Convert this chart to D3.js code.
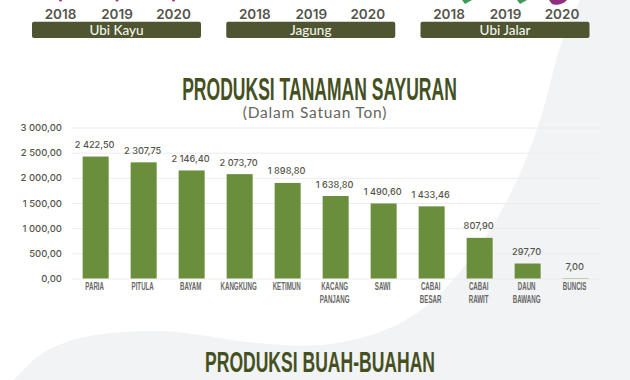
<!DOCTYPE html>
<html>
<head>
<meta charset="utf-8">
<script src="https://cdn.jsdelivr.net/npm/d3@7"></script>
<style>
  html, body { margin: 0; padding: 0; background: #fff; overflow: hidden; }
  text { font-family: "Lato", "Open Sans", sans-serif; }
  .num { font-family: "Inter", "Open Sans", sans-serif; fill: #55554c; }
  .title { font-family: "Liberation Sans", sans-serif; font-weight: 700; fill: #45501f; }
  .cat { font-family: "Liberation Sans", sans-serif; font-weight: 700; fill: #666; }
</style>
</head>
<body>
<svg id="chart" width="630" height="380"></svg>
<script>
const categories = ['PARIA', 'PITULA', 'BAYAM', 'KANGKUNG', 'KETIMUN', 'KACANG PANJANG', 'SAWI', 'CABAI BESAR', 'CABAI RAWIT', 'DAUN BAWANG', 'BUNCIS'];
const values = [2422.50, 2307.75, 2146.40, 2073.70, 1898.80, 1638.80, 1490.60, 1433.46, 807.90, 297.70, 7.00];
const tickValues = [0, 500, 1000, 1500, 2000, 2500, 3000];
const years = ['2018', '2019', '2020'];
const panels = ['Ubi Kayu', 'Jagung', 'Ubi Jalar'];

const MARGIN_LEFT = 72;
const GRID_RIGHT = 600;

const $svg = d3.select('#chart');

// format like 2 422,50
function fmt(v) {
  const parts = v.toFixed(2).split('.');
  return parts[0].replace(/\B(?=(\d{3})+$)/g, ' ') + ',' + parts[1];
}

// narrow display type: no condensed face installed, so squeeze it horizontally
function narrowText(x, y, size, squeeze, str, cls) {
  return $svg.append('text')
    .attr('class', cls)
    .attr('transform', `translate(${x},${y}) scale(${squeeze},1)`)
    .attr('text-anchor', 'middle')
    .style('font-size', size + 'px')
    .text(str);
}

// background swoosh
const swoosh = d3.line().curve(d3.curveCatmullRom.alpha(0.5));
const swooshEdge = [[580, 0], [563, 38], [540, 120], [517, 180], [477, 250], [425, 307], [380, 332], [321, 345], [257, 343], [160, 331], [80, 338], [40, 355], [14, 380]];
$svg.append('path')
  .attr('fill', '#f2f3f5')
  .attr('d', swoosh(swooshEdge) + ' L630,380 L630,0 Z');

// top panels
const yearX = d3.scalePoint().domain(years).range([-56, 57]);
const panelX = d3.scalePoint().domain(panels).range([116.5, 505]);

panels.forEach(p => {
  const g = $svg.append('g').attr('transform', `translate(${panelX(p)},0)`);
  g.selectAll('text.yr').data(years).join('text')
    .attr('class', 'yr num')
    .attr('x', d => yearX(d))
    .attr('y', 18.5)
    .attr('text-anchor', 'middle')
    .style('font-size', '13.5px')
    .style('font-weight', 600)
    .text(d => d);
  g.append('rect')
    .attr('x', -84.5).attr('y', 21.7).attr('width', 169).attr('height', 16.3).attr('rx', 2)
    .attr('fill', '#4e5530');
  g.append('text')
    .attr('x', 0).attr('y', 35)
    .attr('text-anchor', 'middle')
    .attr('fill', '#f4f4ee')
    .style('font-size', '13.5px')
    .style('font-weight', 500)
    .text(p);
});

// bits of the illustrations cut off by the crop at the top edge
years.forEach(y => {
  $svg.append('circle')
    .attr('cx', panelX('Ubi Kayu') + yearX(y)).attr('cy', 0).attr('r', 1.6)
    .attr('fill', '#a83a6e');
});
$svg.append('path').attr('fill', '#3f9a5a').attr('d', 'M462,0 L472,0 L465,4 Z');
$svg.append('path').attr('fill', '#3f9a5a').attr('d', 'M517,0 L527,0 L520,4 Z');
$svg.append('path').attr('fill', '#8e2f7f').attr('d', 'M549,0 L567,0 C564,4 556,6 552,4 Z');

// titles
narrowText(319.5, 100, 31, 0.566, 'PRODUKSI TANAMAN SAYURAN', 'title');
$svg.append('text')
  .attr('x', 315).attr('y', 118).attr('text-anchor', 'middle')
  .attr('fill', '#66665f')
  .style('font-size', '15.5px').style('letter-spacing', '0.8px')
  .text('(Dalam Satuan Ton)');
narrowText(320, 372, 30, 0.585, 'PRODUKSI BUAH-BUAHAN', 'title');

// scales
const scaleX = d3.scaleBand().domain(categories).range([69.7, 601.6]).paddingInner(0.458).paddingOuter(0.27);
const scaleY = d3.scaleLinear().domain([0, 3000]).range([278.5, 127.5]);

// gridlines and y labels via the axis
const axisY = d3.axisLeft(scaleY)
  .tickValues(tickValues)
  .tickSize(-(GRID_RIGHT - MARGIN_LEFT))
  .tickPadding(10)
  .tickFormat(fmt);
const $axis = $svg.append('g').attr('transform', `translate(${MARGIN_LEFT},0)`).call(axisY);
$axis.select('.domain').remove();
$axis.selectAll('.tick line').attr('stroke', '#ececec').attr('stroke-width', 1);
$axis.selectAll('.tick text').attr('class', 'num').style('font-size', '9.5px').style('font-weight', 500);

// bars
$svg.selectAll('rect.bar').data(values).join('rect')
  .attr('class', 'bar')
  .attr('x', (d, i) => scaleX(categories[i]))
  .attr('width', scaleX.bandwidth())
  .attr('y', d => scaleY(d))
  .attr('height', d => scaleY(0) - scaleY(d))
  .attr('fill', '#6b8e3c');

// value labels
$svg.selectAll('text.val').data(values).join('text')
  .attr('class', 'val num')
  .attr('x', (d, i) => scaleX(categories[i]) + scaleX.bandwidth() / 2 - 1)
  .attr('y', d => scaleY(d) - 8.5)
  .attr('text-anchor', 'middle')
  .style('font-size', '9.2px')
  .style('font-weight', 500)
  .text(fmt);

// category labels, one word per line
categories.forEach(c => {
  c.split(' ').forEach((w, i) => {
    narrowText(scaleX(c) + scaleX.bandwidth() / 2 - 1, 290 + i * 13.3, 11, 0.56, w, 'cat');
  });
});
</script>
</body>
</html>
